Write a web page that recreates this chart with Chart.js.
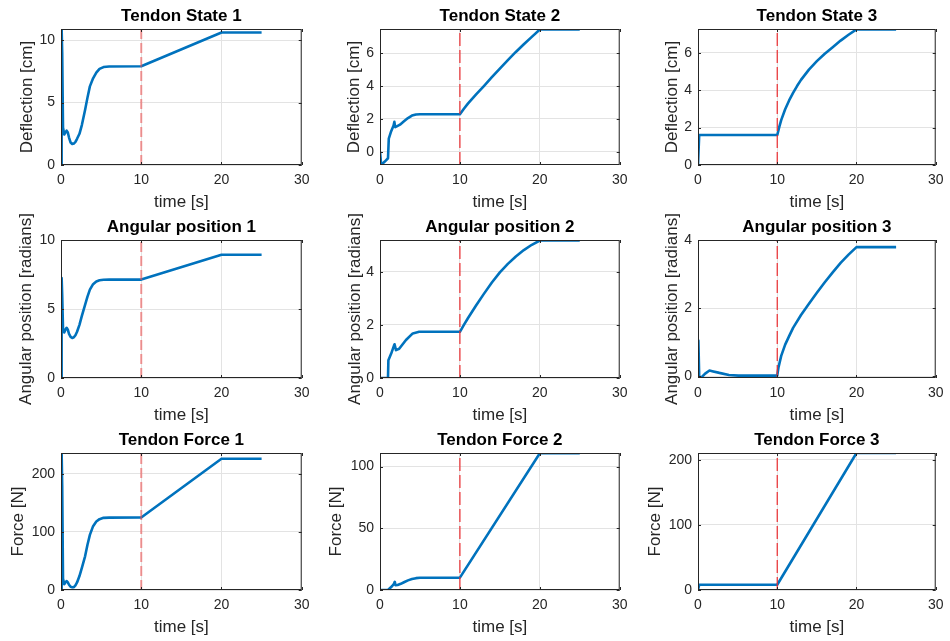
<!DOCTYPE html>
<html>
<head>
<meta charset="utf-8">
<script src="https://cdn.jsdelivr.net/npm/chart.js@4.4.1/dist/chart.umd.min.js"></script>
<style>
  html, body { margin: 0; padding: 0; background: #fff; }
  #wrap { position: relative; width: 950px; height: 641px; }
  .cell { position: absolute; }
</style>
</head>
<body>
<div id="wrap"></div>
<script>
// shared axis data
const timeTicks = [0, 10, 20, 30];
const markerTime = 10;

// Tendon State (deflection, cm)
const tDefl1 = [0, 0.08, 0.15, 0.25, 0.4, 0.55, 0.7, 0.85, 1.0, 1.2, 1.4, 1.6, 1.8, 2.0, 2.3, 2.6, 3.0, 3.3, 3.6, 4.0, 4.4, 4.8, 5.3, 6.0, 10, 20, 25];
const vDefl1 = [0, 10.9, 9.0, 3.0, 2.45, 2.6, 2.75, 2.6, 2.2, 1.8, 1.68, 1.72, 1.85, 2.1, 2.5, 3.2, 4.4, 5.4, 6.3, 6.95, 7.4, 7.7, 7.85, 7.9, 7.92, 10.62, 10.62];
const tDefl2 = [0, 0.15, 0.6, 1.0, 1.1, 1.4, 1.7, 1.8, 1.9, 2.1, 2.5, 3.0, 3.5, 4.0, 4.5, 5.0, 10, 10.5, 11, 12, 13, 14, 15, 16, 17, 18, 19, 20, 25];
const vDefl2 = [0, -0.8, -0.6, -0.4, 0.8, 1.25, 1.6, 1.82, 1.5, 1.55, 1.65, 1.85, 2.05, 2.2, 2.27, 2.28, 2.28, 2.62, 2.93, 3.48, 4.0, 4.54, 5.07, 5.58, 6.08, 6.55, 7.0, 7.45, 7.45];
const tDefl3 = [0, 0.1, 0.15, 10, 10.25, 10.5, 11, 11.5, 12, 12.5, 13, 14, 15, 16, 17, 18, 19, 20, 25];
const vDefl3 = [0, 0, 1.6, 1.6, 2.02, 2.4, 2.98, 3.45, 3.86, 4.22, 4.55, 5.1, 5.55, 5.95, 6.3, 6.65, 6.96, 7.25, 7.25];

// Angular position (radians)
const tAng1 = [0, 0.08, 0.15, 0.25, 0.4, 0.55, 0.7, 0.85, 1.0, 1.2, 1.4, 1.6, 1.8, 2.0, 2.3, 2.6, 3.0, 3.3, 3.6, 4.0, 4.4, 4.8, 5.3, 6.0, 10, 20, 25];
const vAng1 = [0, 7.25, 6.0, 3.6, 3.3, 3.5, 3.64, 3.5, 3.2, 2.98, 2.9, 2.95, 3.1, 3.35, 3.85, 4.5, 5.3, 5.9, 6.4, 6.8, 7.0, 7.08, 7.12, 7.13, 7.13, 8.93, 8.93];
const tAng2 = [0, 1.0, 1.05, 1.4, 1.75, 1.82, 2.0, 2.4, 3.25, 4.1, 4.9, 10, 10.5, 11, 12, 13, 14, 15, 16, 17, 18, 19, 20, 25];
const vAng2 = [0, 0, 0.67, 0.92, 1.22, 1.27, 1.05, 1.1, 1.43, 1.68, 1.74, 1.74, 2.0, 2.25, 2.72, 3.17, 3.6, 3.98, 4.3, 4.58, 4.82, 5.02, 5.18, 5.18];
const tAng3 = [0, 0.05, 0.15, 0.4, 0.9, 1.45, 1.8, 2.7, 3.9, 5.1, 10, 10.15, 10.5, 11, 11.5, 12, 13, 14, 15, 16, 17, 18, 19, 20, 25];
const vAng3 = [0, 1.05, 0.0, -0.04, 0.08, 0.17, 0.15, 0.1, 0.04, 0.02, 0.02, 0.25, 0.6, 0.93, 1.18, 1.42, 1.8, 2.13, 2.45, 2.76, 3.05, 3.33, 3.57, 3.79, 3.79];

// Tendon Force (N)
const tForce1 = [0, 0.08, 0.15, 0.25, 0.4, 0.55, 0.7, 0.85, 1.0, 1.2, 1.4, 1.6, 1.8, 2.0, 2.3, 2.6, 3.0, 3.3, 3.6, 4.0, 4.4, 4.8, 5.3, 6.0, 10, 20, 25];
const vForce1 = [0, 236, 180, 20, 10, 13, 15.5, 13, 9, 5.5, 4.6, 5, 8, 13, 24, 38, 58, 78, 95, 110, 118, 122, 124.3, 124.7, 124.8, 226, 226];
const tForce2 = [0, 1.0, 1.2, 1.5, 1.75, 1.85, 1.95, 2.2, 2.6, 3.0, 3.5, 4.0, 4.5, 5.0, 10, 20, 25];
const vForce2 = [0, 0, 1.2, 3.0, 5.0, 6.6, 3.8, 4.0, 5.0, 6.3, 7.8, 8.9, 9.6, 9.9, 10.0, 110.8, 110.8];
const tForce3 = [0, 0.1, 0.15, 10, 20, 25];
const vForce3 = [0, 0, 8, 8, 210.5, 210.5];

const titles = ["Tendon State 1", "Tendon State 2", "Tendon State 3",
  "Angular position 1", "Angular position 2", "Angular position 3",
  "Tendon Force 1", "Tendon Force 2", "Tendon Force 3"];
const yTitles = ["Deflection [cm]", "Deflection [cm]", "Deflection [cm]",
  "Angular position [radians]", "Angular position [radians]", "Angular position [radians]",
  "Force [N]", "Force [N]", "Force [N]"];
const yMin = [0, -0.81, 0, 0, 0, -0.05, 0, 0, 0];
const yMax = [10.9, 7.48, 7.27, 10, 5.2, 4, 236, 111, 210.5];
const yTicks = [[0, 5, 10], [0, 2, 4, 6], [0, 2, 4, 6], [0, 5, 10], [0, 2, 4], [0, 2, 4],
  [0, 100, 200], [0, 50, 100], [0, 100, 200]];

const panelT = [tDefl1, tDefl2, tDefl3, tAng1, tAng2, tAng3, tForce1, tForce2, tForce3];
const panelV = [vDefl1, vDefl2, vDefl3, vAng1, vAng2, vAng3, vForce1, vForce2, vForce3];

// layout of the 3x3 grid
const cellLeft = [0, 316, 634];
const cellW = [316, 318, 316];
const yAxisW = [61, 64, 64];
const rightPad = [12, 12, 9];
const rowTop = [0, 211, 424];
const rowH = [211, 213, 217];
const xAxisH = [46, 46, 51];
const xTitlePad = [0.5, 0.5, 5.5];
const yTitleX = [27, 38.5, 38.5, 26.5, 39, 38.5, 18.5, 20.5, 21];

const FONT = '"Liberation Sans", Arial, Helvetica, sans-serif';
const TXT = '#262626';
const GRID = '#e3e3e3';

const boxPlugin = {
  id: 'box',
  afterDraw(chart) {
    const { ctx, chartArea: a, scales: { x, y } } = chart;
    ctx.save();
    ctx.strokeStyle = TXT;
    ctx.lineWidth = 1;
    ctx.strokeRect(a.left + 0.5, a.top + 0.5, a.width - 1, a.height - 1);
    ctx.beginPath();
    x.ticks.forEach(t => {
      const px = Math.round(x.getPixelForValue(t.value)) + 0.5;
      ctx.moveTo(px, a.bottom); ctx.lineTo(px, a.bottom - 3);
      ctx.moveTo(px, a.top); ctx.lineTo(px, a.top + 3);
    });
    y.ticks.forEach(t => {
      const py = Math.round(y.getPixelForValue(t.value)) + 0.5;
      ctx.moveTo(a.left, py); ctx.lineTo(a.left + 3, py);
      ctx.moveTo(a.right, py); ctx.lineTo(a.right - 3, py);
    });
    ctx.stroke();
    ctx.restore();
  }
};

const wrap = document.getElementById('wrap');

for (let i = 0; i < 9; i++) {
  const row = Math.floor(i / 3), col = i % 3;
  const div = document.createElement('div');
  div.className = 'cell';
  div.style.left = cellLeft[col] + 'px';
  div.style.top = rowTop[row] + 'px';
  div.style.width = cellW[col] + 'px';
  div.style.height = rowH[row] + 'px';
  const cv = document.createElement('canvas');
  div.appendChild(cv);
  wrap.appendChild(div);

  const first = col === 0;
  new Chart(cv, {
    type: 'line',
    data: {
      datasets: [
        {
          data: [{ x: markerTime, y: yMin[i] }, { x: markerTime, y: yMax[i] }],
          borderColor: first ? 'rgba(236,84,84,0.6)' : '#ea2b2e',
          borderWidth: first ? 2 : 1.2,
          borderDash: first ? [10, 4] : [13, 4],
          pointRadius: 0,
          tension: 0
        },
        {
          data: panelT[i].map((t, k) => ({ x: t, y: panelV[i][k] })),
          borderColor: '#0072BD',
          borderWidth: 2.6,
          borderJoinStyle: 'round',
          pointRadius: 0,
          tension: 0
        }
      ]
    },
    options: {
      responsive: true,
      maintainAspectRatio: false,
      animation: false,
      events: [],
      layout: { padding: { left: 0, right: rightPad[col], top: 0, bottom: 0 } },
      plugins: {
        legend: { display: false },
        tooltip: { enabled: false },
        title: {
          display: true,
          fullSize: false,
          text: titles[i],
          color: '#000',
          font: { family: FONT, size: 17, weight: 'bold', lineHeight: 1.2 },
          padding: { top: 6.3, bottom: 2.3 }
        }
      },
      scales: {
        x: {
          type: 'linear',
          min: 0,
          max: 30,
          afterBuildTicks: s => { s.ticks = timeTicks.map(v => ({ value: v })); },
          afterFit: s => { s.height = xAxisH[row]; },
          grid: { color: GRID, drawTicks: false },
          border: { display: false },
          ticks: { color: TXT, font: { family: FONT, size: 14 }, padding: 6.5, maxRotation: 0, callback: v => String(v) },
          title: {
            display: true, text: 'time [s]', color: TXT,
            font: { family: FONT, size: 17, lineHeight: 1 },
            padding: { top: 0, bottom: xTitlePad[row] }
          }
        },
        y: {
          type: 'linear',
          min: yMin[i],
          max: yMax[i],
          afterBuildTicks: s => { s.ticks = yTicks[i].map(v => ({ value: v })); },
          afterFit: s => { s.width = yAxisW[col]; },
          grid: { color: GRID, drawTicks: false },
          border: { display: false },
          ticks: { color: TXT, font: { family: FONT, size: 14 }, padding: 6, callback: v => String(v) },
          title: {
            display: true, text: yTitles[i], color: TXT,
            font: { family: FONT, size: 17, lineHeight: 1 },
            padding: { top: yTitleX[i] - 8.5, bottom: 0 }
          }
        }
      }
    },
    plugins: [boxPlugin]
  });
}
</script>
</body>
</html>
